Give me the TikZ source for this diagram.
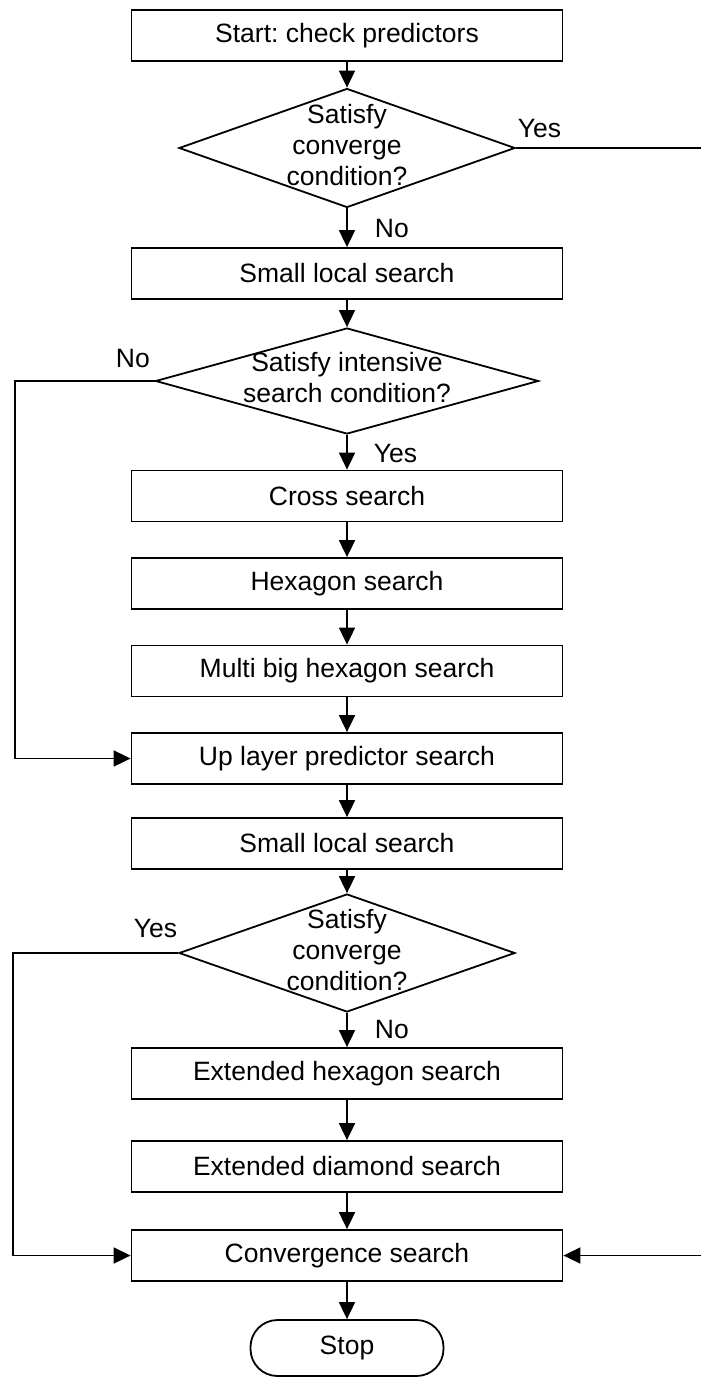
\documentclass[tikz,border=0pt]{standalone}
\usepackage{fontspec}
\setmainfont{Liberation Sans}
\usetikzlibrary{shapes.geometric,arrows.meta}
\frenchspacing

% text of a decision node: a zero-width stack of centred lines
\newcommand{\declines}[1]{\makebox[0pt]{\begin{tabular}{@{}c@{}}#1\end{tabular}}}

\tikzset{
  proc/.style={draw, rectangle, minimum width=431pt, minimum height=51pt, inner sep=0pt},
  decision/.style={draw, diamond, inner sep=0pt},
  term/.style={draw, rectangle, rounded corners=27pt, minimum width=193pt, minimum height=56pt, inner sep=0pt},
  flow/.style={-{Triangle[length=17pt,width=16pt]}},
  lbl/.style={inner sep=0pt, anchor=base west},
}

\begin{document}
\begin{tikzpicture}[x=1pt, y=-1pt, line width=1.8pt,
  every node/.append style={font=\fontsize{26.5}{31}\selectfont}]
\useasboundingbox (0,0) rectangle (701,1378);

% main column
\node[proc] (start) at (347,35.5) {Start: check predictors};
\node[decision, minimum width=336pt, minimum height=119pt] (d1) at (347,148)
  {\declines{Satisfy\\converge\\condition?}};
\node[proc] (s1) at (347,273.5) {Small local search};
\node[decision, minimum width=383pt, minimum height=106pt] (d2) at (347,381)
  {\declines{Satisfy intensive\\search condition?}};
\node[proc] (cross) at (347,496) {Cross search};
\node[proc] (hex) at (347,583.5) {Hexagon search};
\node[proc] (mhex) at (347,671) {Multi big hexagon search};
\node[proc] (up) at (347,758.5) {Up layer predictor search};
\node[proc] (s2) at (347,843.5) {Small local search};
\node[decision, minimum width=336pt, minimum height=118pt] (d3) at (347,953)
  {\declines{Satisfy\\converge\\condition?}};
\node[proc] (ehex) at (347,1073.5) {Extended hexagon search};
\node[proc] (edia) at (347,1166.5) {Extended diamond search};
\node[proc] (conv) at (347,1255.5) {Convergence search};
\node[term] (stop) at (347,1348) {Stop};

% routing points of the side connectors
\coordinate (rbus) at (706,700);
\coordinate (lbus1) at (15,560);
\coordinate (lbus2) at (13,1100);

% straight flow
\draw[flow] (start) -- (d1);
\draw[flow] (d1) -- (s1);
\draw[flow] (s1) -- (d2);
\draw[flow] (d2) -- (cross);
\draw[flow] (cross) -- (hex);
\draw[flow] (hex) -- (mhex);
\draw[flow] (mhex) -- (up);
\draw[flow] (up) -- (s2);
\draw[flow] (s2) -- (d3);
\draw[flow] (d3) -- (ehex);
\draw[flow] (ehex) -- (edia);
\draw[flow] (edia) -- (conv);
\draw[flow] (conv) -- (stop);

% side branches
\draw[flow] (d1.east) -| (rbus) |- (conv.east);
\draw[flow] (d2.west) -| (lbus1) |- (up.west);
\draw[flow] (d3.west) -| (lbus2) |- (conv.west);

% branch labels
\node[lbl] (y1) at (517,138) {Yes};
\node[lbl] (n1) at (374,237) {No};
\node[lbl] (n2) at (115,367) {No};
\node[lbl] (y2) at (373,462) {Yes};
\node[lbl] (y3) at (133,937) {Yes};
\node[lbl] (n3) at (374,1038) {No};
\end{tikzpicture}
\end{document}
